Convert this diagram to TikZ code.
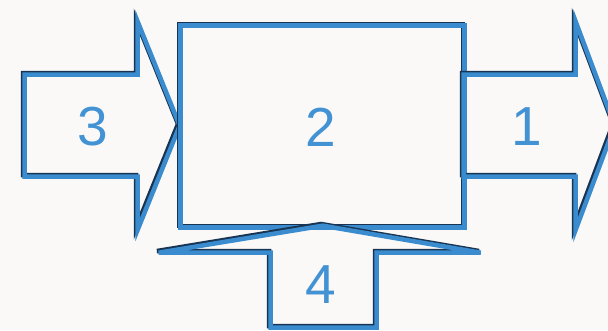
\documentclass[tikz,border=0pt]{standalone}
\usepackage{fontspec}
\setmainfont{Liberation Sans}
\definecolor{bg}{RGB}{250,249,248}
\definecolor{edgeblue}{RGB}{58,140,206}
\definecolor{edgedark}{RGB}{24,52,82}
\definecolor{txtblue}{RGB}{66,146,212}
\begin{document}
\begin{tikzpicture}[x=1pt,y=-1pt,
  shade/.style={draw=edgedark,line width=4.5pt,line join=miter,shift={(-1,-1)}},
  face/.style={draw=edgeblue,line width=4.5pt,line join=miter,shift={(0.7,0.7)}},
  lbl/.style={text=txtblue,font=\fontsize{55}{60}\selectfont,inner sep=0pt}]
\fill[bg] (0,0) rectangle (608,330);
\useasboundingbox (0,0) rectangle (608,330);
\clip (0,0) rectangle (608,330);
\def\arrowL{(24,74) -- (137,74) -- (137,21) -- (179,125) -- (137,229) -- (137,176) -- (24,176) -- cycle}
\def\boxM{(180,25) rectangle (464,227)}
\def\arrowR{(463,74) -- (575,74) -- (575,21) -- (614,125) -- (575,229) -- (575,176) -- (463,176) -- cycle}
\def\arrowB{(270,327) -- (270,252) -- (158,252) -- (322,225) -- (480,252) -- (376,252) -- (376,327) -- cycle}
\draw[shade] \arrowL; \draw[face] \arrowL;
\draw[shade] \boxM; \draw[face] \boxM;
\draw[shade] \arrowR; \draw[face] \arrowR;
\draw[shade] \arrowB; \draw[face] \arrowB;
\node[lbl] (n3) at (93,127) {3};
\node[lbl] (n2) at (321,127) {2};
\node[lbl] (n1) at (527,127) {1};
\node[lbl] (n4) at (321,285) {4};
\end{tikzpicture}
\end{document}
